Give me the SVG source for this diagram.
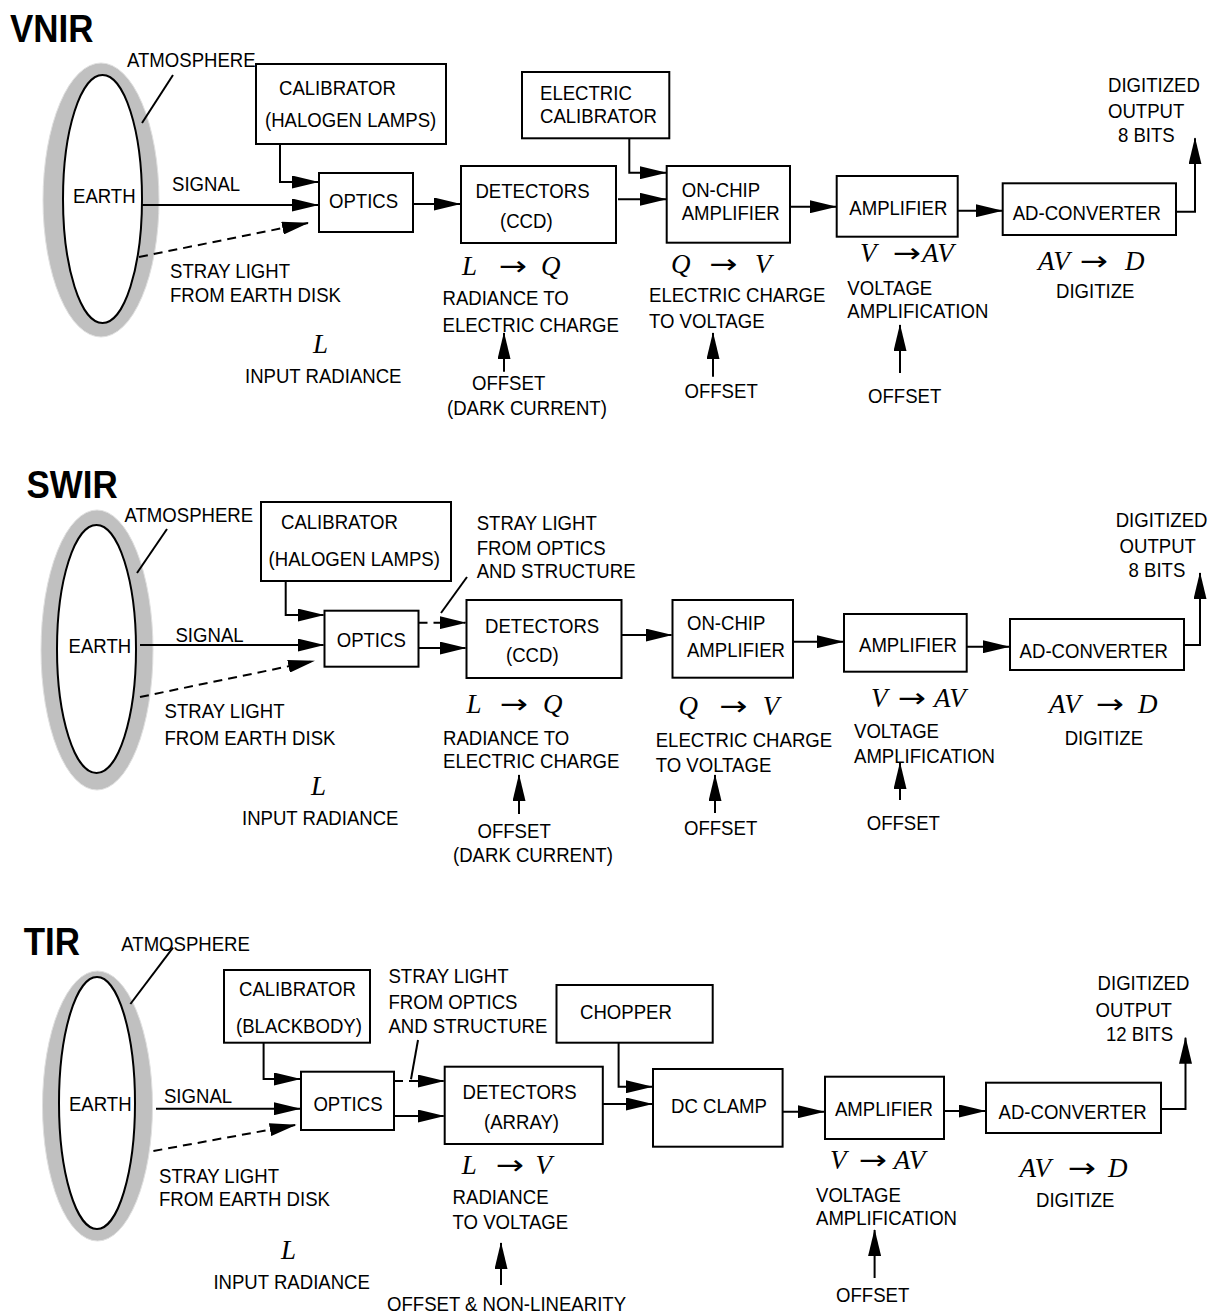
<svg xmlns="http://www.w3.org/2000/svg" width="1212" height="1316" viewBox="0 0 1212 1316">
<style>
text{font-family:"Liberation Sans",Arial,sans-serif;font-size:21px;fill:#000;transform-box:fill-box;transform-origin:left center;transform:scaleX(.885)}
.title{font-weight:bold;font-size:38px;transform:scaleX(.92)}
.m{font-family:"Liberation Serif","Times New Roman",serif;font-size:27px;font-style:italic;transform:none}
.ar{font-family:"DejaVu Sans",sans-serif;font-size:27px;transform:scaleX(1.25)}
.box{fill:#fff;stroke:#000;stroke-width:2}
.atm{fill:#c0c0c0;stroke:#e0e0e0;stroke-width:1}
.earth{fill:#fff;stroke:#000;stroke-width:2}
.c{fill:none;stroke:#000;stroke-width:2}
.a{fill:none;stroke:#000;stroke-width:2;marker-end:url(#ah)}
.d{fill:none;stroke:#000;stroke-width:2;stroke-dasharray:9 6;marker-end:url(#ah)}
</style>
<defs>
<marker id="ah" markerUnits="userSpaceOnUse" markerWidth="27" markerHeight="13" refX="26" refY="6.5" orient="auto">
<path d="M0,0 L27,6.5 L0,13 z" fill="#000"/>
</marker>
</defs>
<rect width="1212" height="1316" fill="#fff"/>

<!-- ================= VNIR ================= -->
<g id="vnir">
<text class="title" x="10" y="42">VNIR</text>
<g id="vnir-earth">
<ellipse class="atm" cx="101" cy="200" rx="58" ry="137"/>
<ellipse class="earth" cx="102.5" cy="199" rx="39.5" ry="124"/>
<text x="73" y="203">EARTH</text>
<text x="127" y="67">ATMOSPHERE</text>
</g>
<g id="vnir-calibrator"><rect class="box" x="256" y="64" width="190" height="80"/>
<text x="279" y="95">CALIBRATOR</text><text x="265" y="127">(HALOGEN LAMPS)</text></g>
<g id="vnir-optics"><rect class="box" x="319" y="173" width="94" height="59"/><text x="329" y="208">OPTICS</text></g>
<g id="vnir-detectors"><rect class="box" x="461" y="166" width="155" height="77"/>
<text x="475.4" y="198">DETECTORS</text><text x="500" y="228">(CCD)</text></g>
<g id="vnir-elec-cal"><rect class="box" x="522" y="72" width="147.3" height="66.3"/>
<text x="540" y="100">ELECTRIC</text><text x="540" y="123">CALIBRATOR</text></g>
<g id="vnir-onchip"><rect class="box" x="666.7" y="166" width="123.3" height="76.7"/>
<text x="681.7" y="196.7">ON-CHIP</text><text x="681.7" y="220">AMPLIFIER</text></g>
<g id="vnir-amp"><rect class="box" x="836.7" y="176" width="121" height="60.7"/><text x="849.3" y="215">AMPLIFIER</text></g>
<g id="vnir-adc"><rect class="box" x="1002.7" y="183.3" width="173.3" height="51.7"/><text x="1012.7" y="220">AD-CONVERTER</text></g>
<g id="vnir-labels">
<text x="172" y="191">SIGNAL</text>
<text x="170" y="278">STRAY LIGHT</text><text x="170" y="302">FROM EARTH DISK</text>
<text class="m" x="313" y="353">L</text>
<text x="245" y="383">INPUT RADIANCE</text>
<text class="m" x="462" y="275">L</text><text class="ar" x="499" y="275">→</text><text class="m" x="541" y="275">Q</text>
<text x="442.5" y="305">RADIANCE TO</text><text x="442.5" y="332">ELECTRIC CHARGE</text>
<text x="472" y="390">OFFSET</text><text x="447" y="415">(DARK CURRENT)</text>
<text class="m" x="671" y="273">Q</text><text class="ar" x="709.5" y="273">→</text><text class="m" x="755" y="273">V</text>
<text x="649" y="302">ELECTRIC CHARGE</text><text x="649" y="328">TO VOLTAGE</text>
<text x="684.5" y="398">OFFSET</text>
<text class="m" x="860" y="262">V</text><text class="ar" x="893" y="262">→</text><text class="m" x="922" y="262">AV</text>
<text x="847.3" y="295">VOLTAGE</text><text x="847.3" y="318">AMPLIFICATION</text>
<text x="868" y="403">OFFSET</text>
<text class="m" x="1038" y="270">AV</text><text class="ar" x="1080" y="270">→</text><text class="m" x="1125" y="270">D</text>
<text x="1056" y="298">DIGITIZE</text>
<text x="1108" y="92">DIGITIZED</text><text x="1108" y="118">OUTPUT</text><text x="1118" y="142">8 BITS</text>
</g>
</g>

<!-- ================= SWIR ================= -->
<g id="swir">
<text class="title" x="26.5" y="498">SWIR</text>
<g id="swir-earth">
<ellipse class="atm" cx="97" cy="650" rx="56" ry="140"/>
<ellipse class="earth" cx="96.5" cy="649" rx="39.5" ry="124"/>
<text x="68.6" y="653">EARTH</text>
<text x="124.5" y="522">ATMOSPHERE</text>
</g>
<g id="swir-calibrator"><rect class="box" x="261" y="502" width="190" height="79"/>
<text x="281" y="529">CALIBRATOR</text><text x="268.6" y="566">(HALOGEN LAMPS)</text></g>
<g id="swir-optics"><rect class="box" x="324.5" y="610.7" width="94" height="56"/><text x="336.7" y="646.7">OPTICS</text></g>
<g id="swir-detectors"><rect class="box" x="466.5" y="600" width="155" height="78"/>
<text x="485" y="633">DETECTORS</text><text x="506" y="661.7">(CCD)</text></g>
<g id="swir-onchip"><rect class="box" x="672.5" y="600" width="120.5" height="77.7"/>
<text x="687" y="630">ON-CHIP</text><text x="687" y="656.7">AMPLIFIER</text></g>
<g id="swir-amp"><rect class="box" x="844" y="614" width="122.7" height="57.7"/><text x="859" y="651.7">AMPLIFIER</text></g>
<g id="swir-adc"><rect class="box" x="1010" y="619" width="174" height="51"/><text x="1019.6" y="658">AD-CONVERTER</text></g>
<g id="swir-labels">
<text x="175.5" y="641.7">SIGNAL</text>
<text x="164.5" y="718">STRAY LIGHT</text><text x="164.5" y="745">FROM EARTH DISK</text>
<text class="m" x="311" y="795">L</text>
<text x="242" y="825">INPUT RADIANCE</text>
<text x="476.7" y="530">STRAY LIGHT</text><text x="476.7" y="555">FROM OPTICS</text><text x="476.7" y="578">AND STRUCTURE</text>
<text class="m" x="466.5" y="713">L</text><text class="ar" x="500" y="713">→</text><text class="m" x="543" y="713">Q</text>
<text x="443" y="745">RADIANCE TO</text><text x="443" y="768">ELECTRIC CHARGE</text>
<text x="477.5" y="838">OFFSET</text><text x="453" y="862">(DARK CURRENT)</text>
<text class="m" x="678.4" y="715">Q</text><text class="ar" x="719.6" y="715">→</text><text class="m" x="762.7" y="715">V</text>
<text x="655.7" y="746.7">ELECTRIC CHARGE</text><text x="655.7" y="771.7">TO VOLTAGE</text>
<text x="684" y="835">OFFSET</text>
<text class="m" x="871" y="707">V</text><text class="ar" x="898" y="707">→</text><text class="m" x="934" y="707">AV</text>
<text x="854" y="738">VOLTAGE</text><text x="854" y="763">AMPLIFICATION</text>
<text x="866.7" y="830">OFFSET</text>
<text class="m" x="1049" y="713">AV</text><text class="ar" x="1096" y="713">→</text><text class="m" x="1138" y="713">D</text>
<text x="1064.7" y="745">DIGITIZE</text>
<text x="1115.7" y="527">DIGITIZED</text><text x="1119.6" y="553">OUTPUT</text><text x="1128.6" y="577">8 BITS</text>
</g>
</g>

<!-- ================= TIR ================= -->
<g id="tir">
<text class="title" x="23.7" y="955">TIR</text>
<g id="tir-earth">
<ellipse class="atm" cx="97.5" cy="1106" rx="55" ry="135"/>
<ellipse class="earth" cx="97" cy="1103" rx="38" ry="126"/>
<text x="69" y="1111">EARTH</text>
<text x="121.3" y="951">ATMOSPHERE</text>
</g>
<g id="tir-calibrator"><rect class="box" x="224" y="970" width="146" height="72.7"/>
<text x="239" y="996">CALIBRATOR</text><text x="236" y="1032.7">(BLACKBODY)</text></g>
<g id="tir-optics"><rect class="box" x="301" y="1071.7" width="93" height="58.3"/><text x="313.4" y="1111">OPTICS</text></g>
<g id="tir-detectors"><rect class="box" x="444.7" y="1066.7" width="158.1" height="77.3"/>
<text x="462.5" y="1099">DETECTORS</text><text x="484" y="1129">(ARRAY)</text></g>
<g id="tir-chopper"><rect class="box" x="556.5" y="985" width="156.2" height="57.7"/><text x="580" y="1019">CHOPPER</text></g>
<g id="tir-dcclamp"><rect class="box" x="653" y="1069" width="129.6" height="77.7"/><text x="671" y="1113">DC CLAMP</text></g>
<g id="tir-amp"><rect class="box" x="825" y="1076.7" width="119" height="62.3"/><text x="835" y="1115.7">AMPLIFIER</text></g>
<g id="tir-adc"><rect class="box" x="986" y="1082.7" width="175" height="50.3"/><text x="998.5" y="1119">AD-CONVERTER</text></g>
<g id="tir-labels">
<text x="164" y="1102.7">SIGNAL</text>
<text x="159" y="1182.7">STRAY LIGHT</text><text x="159" y="1206">FROM EARTH DISK</text>
<text class="m" x="281" y="1259">L</text>
<text x="213.4" y="1289">INPUT RADIANCE</text>
<text x="388.5" y="982.7">STRAY LIGHT</text><text x="388.5" y="1009">FROM OPTICS</text><text x="388.5" y="1032.7">AND STRUCTURE</text>
<text class="m" x="461.7" y="1174">L</text><text class="ar" x="496" y="1174">→</text><text class="m" x="535.6" y="1174">V</text>
<text x="452.6" y="1204">RADIANCE</text><text x="452.6" y="1229">TO VOLTAGE</text>
<text x="387" y="1311">OFFSET &amp; NON-LINEARITY</text>
<text class="m" x="830" y="1169">V</text><text class="ar" x="859" y="1169">→</text><text class="m" x="893.7" y="1169">AV</text>
<text x="816" y="1201.7">VOLTAGE</text><text x="816" y="1225">AMPLIFICATION</text>
<text x="836" y="1301.7">OFFSET</text>
<text class="m" x="1019.4" y="1177">AV</text><text class="ar" x="1068" y="1177">→</text><text class="m" x="1108" y="1177">D</text>
<text x="1036" y="1206.7">DIGITIZE</text>
<text x="1097.6" y="990">DIGITIZED</text><text x="1095.6" y="1017">OUTPUT</text><text x="1106" y="1040.7">12 BITS</text>
</g>
</g>

<!-- ================= CONNECTORS ================= -->
<g id="connectors">
<!-- VNIR -->
<path class="c" d="M173,75 L142,123"/>
<path class="a" d="M280,144 V182 H318"/>
<path class="a" d="M142,205 H318"/>
<path class="d" d="M139,257 L308,223"/>
<path class="a" d="M413,204 H460"/>
<path class="a" d="M629.3,138.3 V172.7 H666"/>
<path class="a" d="M618,199.3 H666"/>
<path class="a" d="M790,206.7 H836"/>
<path class="a" d="M957.7,210.7 H1002"/>
<path class="a" d="M1176,211.7 H1195 V138.3"/>
<path class="a" d="M504,371.7 V333"/>
<path class="a" d="M713,376.7 V333"/>
<path class="a" d="M900,373 V325"/>
<!-- SWIR -->
<path class="c" d="M167,529 L137,573"/>
<path class="a" d="M285.7,581 V615 H323.5"/>
<path class="a" d="M140,645 H323.5"/>
<path class="d" d="M140,697 L314,661"/>
<path class="c" d="M467,577 L441,613"/>
<path class="d" d="M418.5,622.7 H465.5"/>
<path class="a" d="M418.5,648 H465.5"/>
<path class="a" d="M621.5,635 H671.5"/>
<path class="a" d="M793,641.7 H843"/>
<path class="a" d="M966.7,646.7 H1009"/>
<path class="a" d="M1184,645 H1200 V573"/>
<path class="a" d="M519,814 V775"/>
<path class="a" d="M715,813 V775"/>
<path class="a" d="M900,800 V763"/>
<!-- TIR -->
<path class="c" d="M173,947.7 L130.4,1004"/>
<path class="a" d="M263.6,1042.7 V1079 H300"/>
<path class="a" d="M156,1108.7 H300"/>
<path class="d" d="M153.4,1151 L295.6,1125"/>
<path class="c" d="M418,1040 L411,1079.3"/>
<path class="d" d="M394,1081 H443.7"/>
<path class="a" d="M394,1116 H443.7"/>
<path class="a" d="M618.6,1042.7 V1086.7 H652"/>
<path class="a" d="M602.8,1104 H652"/>
<path class="a" d="M782.6,1111.7 H824"/>
<path class="a" d="M944,1111 H985"/>
<path class="a" d="M1161,1109 H1185.5 V1037.7"/>
<path class="a" d="M501,1285 V1243"/>
<path class="a" d="M874.6,1278 V1230"/>
</g>
</svg>
